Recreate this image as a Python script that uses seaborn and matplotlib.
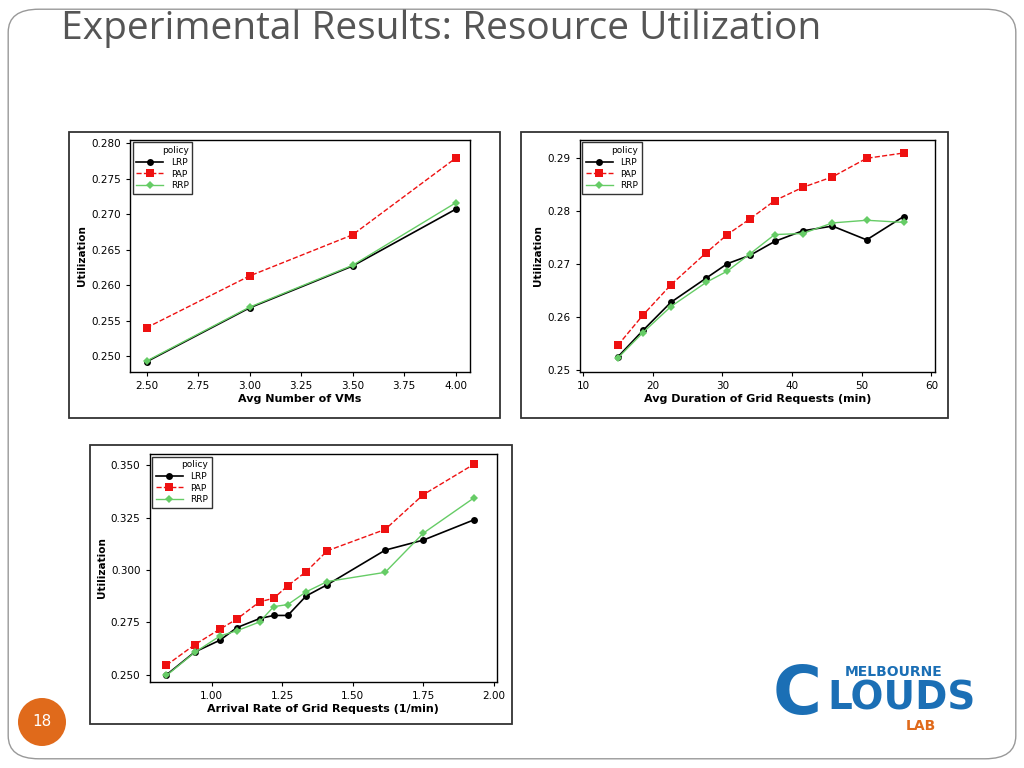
import matplotlib
matplotlib.use("Agg")
import matplotlib.pyplot as plt
import seaborn as sns
import pandas as pd
from matplotlib.patches import FancyBboxPatch, Ellipse, Rectangle

policies = ["LRP", "PAP", "RRP"]

vms_x = [2.5, 3.0, 3.5, 4.0]
vms_lrp = [0.2492, 0.2568, 0.2627, 0.2707]
vms_pap = [0.2540, 0.2613, 0.2671, 0.2779]
vms_rrp = [0.2493, 0.2569, 0.2628, 0.2716]

dur_x = [15, 18.6, 22.6, 27.7, 30.7, 34, 37.5, 41.5, 45.8, 50.7, 56]
dur_lrp = [0.2525, 0.2575, 0.2628, 0.2674, 0.2701, 0.2717, 0.2743, 0.2763, 0.2772, 0.2746, 0.2790]
dur_pap = [0.2547, 0.2604, 0.2661, 0.2722, 0.2756, 0.2786, 0.2820, 0.2845, 0.2865, 0.2900, 0.2910]
dur_rrp = [0.2523, 0.2571, 0.2620, 0.2666, 0.2687, 0.2720, 0.2756, 0.2758, 0.2778, 0.2783, 0.2779]

arr_x = [0.84, 0.94, 1.03, 1.09, 1.17, 1.22, 1.27, 1.335, 1.41, 1.615, 1.75, 1.93]
arr_lrp = [0.2499, 0.2608, 0.2665, 0.2725, 0.2768, 0.2783, 0.2783, 0.2876, 0.2930, 0.3095, 0.3143, 0.3240]
arr_pap = [0.2545, 0.2643, 0.2718, 0.2766, 0.2848, 0.2865, 0.2925, 0.2992, 0.3092, 0.3194, 0.3360, 0.3506]
arr_rrp = [0.2496, 0.2606, 0.2685, 0.2710, 0.2752, 0.2825, 0.2835, 0.2896, 0.2945, 0.2989, 0.3176, 0.3345]

styles = {
    "LRP": dict(color="black", ls="-", marker="o", ms=5, lw=1.2),
    "PAP": dict(color="#ee1111", ls="--", marker="s", ms=6, lw=1.0),
    "RRP": dict(color="#66cc66", ls="-", marker="D", ms=4.5, lw=1.0),
}

def make_df(x, l, p, r):
    rows = []
    for pol, ys in zip(policies, [l, p, r]):
        for xi, yi in zip(x, ys):
            rows.append((xi, yi, pol))
    return pd.DataFrame(rows, columns=["x", "Utilization", "policy"])

fig = plt.figure(figsize=(10.24, 7.68), dpi=100)
fig.patch.set_facecolor("white")

fig.patches.append(FancyBboxPatch((0.008, 0.012), 0.984, 0.976, boxstyle="round,pad=0,rounding_size=0.03",
                                  transform=fig.transFigure, fill=False, edgecolor="#999999", lw=1))
fig.text(0.06, 0.962, "Experimental Results: Resource Utilization", fontsize=28, color="#555555",
         va="center", ha="left", family="Open Sans")

for (x0, y0, x1, y1) in [(69, 132, 500, 418), (521, 132, 948, 418), (90, 445, 512, 724)]:
    fig.patches.append(Rectangle((x0/1024, 1-y1/768), (x1-x0)/1024, (y1-y0)/768,
                                 transform=fig.transFigure, fill=False, edgecolor="#333333", lw=1.3))

def draw(rect, df, xlabel, xticks, yticks, yfmt, xlim, ylim):
    ax = fig.add_axes(rect)
    for pol in policies:
        s = styles[pol]
        sub = df[df.policy == pol]
        sns.lineplot(data=sub, x="x", y="Utilization", ax=ax, color=s["color"], linestyle=s["ls"],
                     marker=s["marker"], markersize=s["ms"], linewidth=s["lw"], markeredgewidth=0,
                     label=pol, sort=False)
    ax.set_xticks(xticks)
    ax.set_yticks(yticks)
    ax.set_yticklabels([yfmt.format(v) for v in yticks])
    ax.set_xticklabels([f"{v:.2f}" if isinstance(v, float) else str(v) for v in xticks])
    ax.set_xlim(*xlim)
    ax.set_ylim(*ylim)
    ax.set_xlabel(xlabel, fontsize=8, fontweight="bold", labelpad=2)
    ax.set_ylabel("Utilization", fontsize=7.5, fontweight="bold", labelpad=3)
    ax.tick_params(labelsize=7.5, length=3)
    for sp in ax.spines.values():
        sp.set_color("black"); sp.set_linewidth(1)
    leg = ax.legend(title="policy", loc="upper left", fontsize=6.5, title_fontsize=6.5,
                    frameon=True, fancybox=False, edgecolor="black", borderaxespad=0.3,
                    handlelength=3, labelspacing=0.3)
    leg.get_frame().set_linewidth(1)
    leg._legend_box.align = "right"
    return ax

draw([0.127, 0.516, 0.332, 0.302], make_df(vms_x, vms_lrp, vms_pap, vms_rrp),
     "Avg Number of VMs", [2.5, 2.75, 3.0, 3.25, 3.5, 3.75, 4.0],
     [0.250, 0.255, 0.260, 0.265, 0.270, 0.275, 0.280], "{:.3f}", (2.42, 4.07), (0.2478, 0.2805))
draw([0.566, 0.516, 0.347, 0.302], make_df(dur_x, dur_lrp, dur_pap, dur_rrp),
     "Avg Duration of Grid Requests (min)", [10, 20, 30, 40, 50, 60],
     [0.25, 0.26, 0.27, 0.28, 0.29], "{:.2f}", (9.5, 60.5), (0.2497, 0.2935))
draw([0.146, 0.112, 0.339, 0.297], make_df(arr_x, arr_lrp, arr_pap, arr_rrp),
     "Arrival Rate of Grid Requests (1/min)", [1.0, 1.25, 1.5, 1.75, 2.0],
     [0.250, 0.275, 0.300, 0.325, 0.350], "{:.3f}", (0.78, 2.01), (0.2465, 0.3555))

fig.patches.append(Ellipse((42/1024, 1-722/768), 48/1024, 48/768, transform=fig.transFigure,
                           facecolor="#e06a1b", edgecolor="none"))
fig.text(42/1024, 1-722/768, "18", ha="center", va="center", color="white", fontsize=11)

fig.text(0.755, 0.095, "C", fontsize=48, color="#1b6fb5", fontweight="bold", ha="left", va="center")
fig.text(0.825, 0.125, "MELBOURNE", fontsize=10, color="#1b6fb5", fontweight="bold", ha="left", va="center")
fig.text(0.808, 0.09, "LOUDS", fontsize=28, color="#1b6fb5", fontweight="bold", ha="left", va="center")
fig.text(0.885, 0.055, "LAB", fontsize=10, color="#e06a1b", fontweight="bold", ha="left", va="center")

fig.savefig("out.png", dpi=100)
